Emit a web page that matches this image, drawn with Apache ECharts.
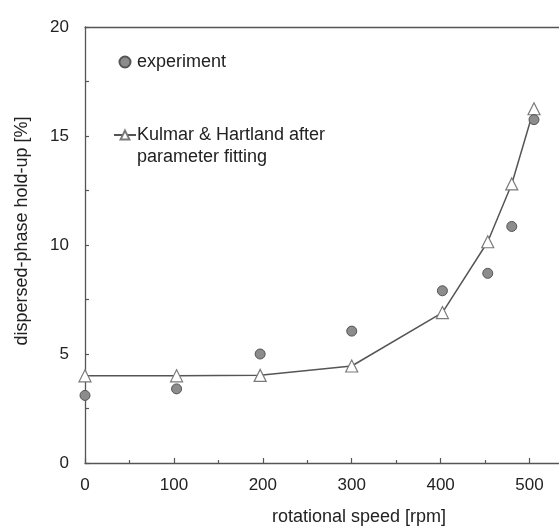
<!DOCTYPE html>
<html>
<head>
<meta charset="utf-8">
<script src="https://cdn.jsdelivr.net/npm/echarts@6/dist/echarts.min.js"></script>
<style>
  html, body { margin: 0; padding: 0; background: #fff; overflow: hidden; }
  /* the drawing is wider than the window: the frame's right side lies past the edge */
  #chart { width: 600px; height: 527px; }
</style>
</head>
<body>
<div id="chart"></div>
<script>
// Rotational speed of the agitator [rpm]
const rpm = [0, 103, 197, 300, 402, 453, 480, 505];
// Measured dispersed-phase hold-up [%]
const experiment = [3.1, 3.4, 5.0, 6.05, 7.9, 8.7, 10.85, 15.75];
// Kumar & Hartland correlation after parameter fitting [%]
const model = [4.0, 4.0, 4.02, 4.45, 6.9, 10.15, 12.8, 16.25];

const seriesNames = ['experiment', 'Kulmar & Hartland after parameter fitting'];
const xTitle = 'rotational speed [rpm]';
const yTitle = 'dispersed-phase hold-up [%]';

const FONT = '"Liberation Sans", Arial, sans-serif';
const AXIS = '#555';
const TEXT = '#222';

const pairs = (xs, ys) => xs.map((x, i) => [x, ys[i]]);

const chart = echarts.init(document.getElementById('chart'), null, { renderer: 'canvas' });

const X_MAX = 550;

chart.setOption({
  animation: false,
  backgroundColor: '#fff',
  textStyle: { fontFamily: FONT, color: TEXT },
  grid: { left: 85, top: 27, bottom: 64, right: 26 },
  legend: {
    orient: 'vertical',
    left: 113, top: 51,
    padding: 0,
    itemWidth: 22, itemHeight: 11,
    itemGap: 29,
    textStyle: { fontFamily: FONT, fontSize: 18, color: TEXT, lineHeight: 22, padding: [0, 0, 0, -4] },
    formatter: name => name === seriesNames[1]
      ? '\nKulmar & Hartland after\nparameter fitting'
      : name,
    data: seriesNames
  },
  xAxis: [
    {
      type: 'value',
      min: 0, max: X_MAX, interval: 100,
      axisLine: { show: true, lineStyle: { color: AXIS, width: 1.3 } },
      axisTick: { show: true, inside: true, length: 5, lineStyle: { color: AXIS, width: 1.2 } },
      minorTick: { show: true, splitNumber: 2, length: 3, lineStyle: { color: AXIS, width: 1.2 } },
      splitLine: { show: false },
      axisLabel: { fontSize: 17, color: TEXT, margin: 14, fontFamily: FONT,
        formatter: v => (v % 100 === 0 ? String(v) : '') }
    },
    {
      // top side of the frame
      type: 'value', position: 'top',
      min: 0, max: X_MAX,
      axisLine: { show: true, onZero: false, lineStyle: { color: AXIS, width: 1.3 } },
      axisTick: { show: false }, axisLabel: { show: false }, splitLine: { show: false }
    }
  ],
  yAxis: {
    type: 'value',
    min: 0, max: 20, interval: 5,
    axisLine: { show: true, lineStyle: { color: AXIS, width: 1.3 } },
    axisTick: { show: true, inside: true, length: 4, lineStyle: { color: AXIS, width: 1.2 } },
    minorTick: { show: true, splitNumber: 2, length: 4, lineStyle: { color: AXIS, width: 1.2 } },
    splitLine: { show: false },
    axisLabel: { fontSize: 17, color: TEXT, margin: 16, fontFamily: FONT }
  },
  graphic: [
    {
      type: 'text',
      x: 359, y: 517,
      style: { text: xTitle, font: '18px ' + FONT, fill: TEXT, align: 'center', verticalAlign: 'middle' }
    },
    {
      type: 'text',
      x: 22, y: 231, rotation: Math.PI / 2,
      style: { text: yTitle, font: '18px ' + FONT, fill: TEXT, align: 'center', verticalAlign: 'middle' }
    }
  ],
  series: [
    {
      name: seriesNames[1],
      type: 'line',
      data: pairs(rpm, model),
      symbol: 'triangle',
      symbolSize: 12,
      lineStyle: { color: '#555', width: 1.5 },
      itemStyle: { color: '#fff', borderColor: '#7a7a7a', borderWidth: 1.2 },
      z: 2
    },
    {
      name: seriesNames[0],
      type: 'scatter',
      data: pairs(rpm, experiment),
      symbol: 'circle',
      symbolSize: 10,
      itemStyle: { color: '#8c8c8c', borderColor: '#555', borderWidth: 1, opacity: 1 },
      z: 3
    }
  ]
});
</script>
</body>
</html>
